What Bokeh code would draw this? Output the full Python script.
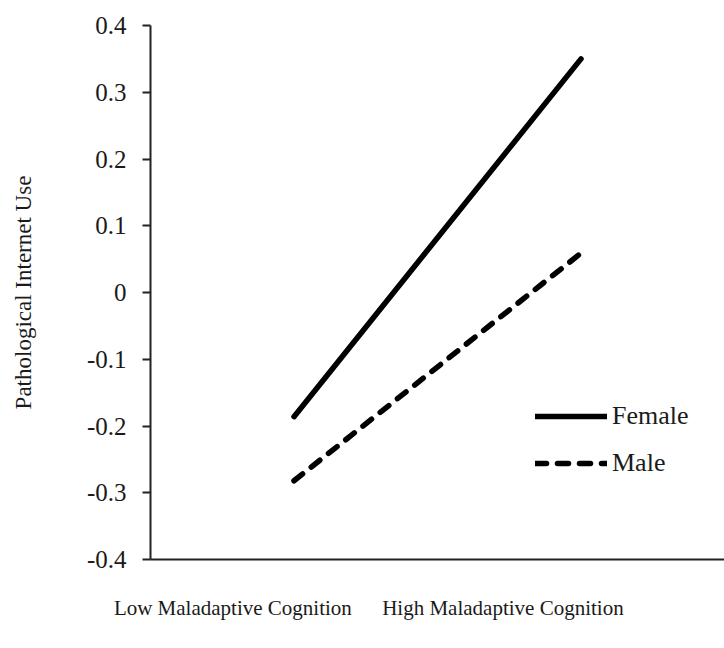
from bokeh.plotting import figure
from bokeh.models import FixedTicker, Legend, LegendItem, Range1d
from bokeh.embed import file_html
from bokeh.resources import INLINE

# Data
levels = [0, 1]  # Low, High maladaptive cognition
female = [-0.186, 0.350]
male = [-0.282, 0.059]
category_labels = ["Low Maladaptive Cognition", "High Maladaptive Cognition"]
category_label_pos = [-0.213, 0.728]
y_ticks = [-0.4, -0.3, -0.2, -0.1, 0.0, 0.1, 0.2, 0.3, 0.4]
y_tick_labels = ["-0.4", "-0.3", "-0.2", "-0.1", "0", "0.1", "0.2", "0.3", "0.4"]

FONT = "Liberation Serif"
TXT = "#1a1a1a"

p = figure(width=724, height=648, output_backend="svg", toolbar_location=None,
           x_range=Range1d(-0.5, 1.5), y_range=Range1d(-0.4, 0.4),
           min_border_left=150, min_border_right=0, min_border_top=25, min_border_bottom=89)
p.outline_line_color = None
p.grid.visible = False
p.background_fill_color = "white"
p.border_fill_color = "white"

r1 = p.line(levels, female, line_color="black", line_width=5.5, line_cap="round")
r2 = p.line(levels, male, line_color="black", line_width=5.5, line_cap="round", line_dash="11 11")

# y axis
ya = p.yaxis[0]
ya.ticker = FixedTicker(ticks=y_ticks)
ya.major_label_overrides = {t: l for t, l in zip(y_ticks, y_tick_labels)}
ya.minor_tick_line_color = None
ya.major_tick_out = 8
ya.major_tick_in = 0
ya.major_tick_line_width = 2
ya.axis_line_width = 2
ya.axis_line_color = "#222222"
ya.major_tick_line_color = "#222222"
ya.major_label_text_font = FONT
ya.major_label_text_font_size = "25px"
ya.major_label_text_color = TXT
ya.major_label_standoff = 16
ya.axis_label = "Pathological Internet Use"
ya.axis_label_text_font = FONT
ya.axis_label_text_font_style = "normal"
ya.axis_label_text_font_size = "23px"
ya.axis_label_text_color = TXT
ya.axis_label_standoff = 48

# x axis
xa = p.xaxis[0]
xa.ticker = FixedTicker(ticks=category_label_pos)
xa.major_label_overrides = {t: l for t, l in zip(category_label_pos, category_labels)}
xa.minor_tick_line_color = None
xa.major_tick_line_color = None
xa.axis_line_width = 2
xa.axis_line_color = "#222222"
xa.major_label_text_font = FONT
xa.major_label_text_font_size = "21px"
xa.major_label_text_color = TXT
xa.major_label_standoff = 30

legend = Legend(items=[LegendItem(label="Female", renderers=[r1]),
                       LegendItem(label="Male", renderers=[r2])],
                location=(385, 81), glyph_width=72, glyph_height=20,
                label_standoff=5, spacing=17, padding=0, margin=0,
                border_line_color=None, background_fill_alpha=0,
                label_text_font=FONT, label_text_font_size="26px",
                label_text_color=TXT)
p.add_layout(legend)

open("out.html", "w").write(file_html(p, INLINE))
